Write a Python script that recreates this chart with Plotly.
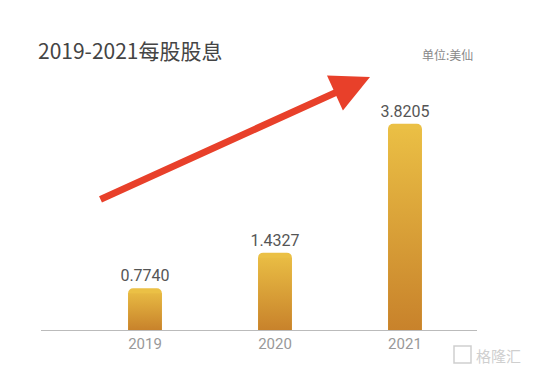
import plotly.graph_objects as go

years = ["2019", "2020", "2021"]
dps = [0.7740, 1.4327, 3.8205]
labels = ["0.7740", "1.4327", "3.8205"]

W, H = 554, 372
L, R, T, B = 41, 77, 60, 42
PW, PH = W - L - R, H - T - B
YMAX = 5.0
BW = 0.26
TOP_C = "#EBC045"
BOT_C = "#C8822B"

def px(x, y):
    return (x - L) / PW, (H - B - y) / PH

fig = go.Figure()
xs = list(range(len(years)))
fig.add_trace(go.Bar(
    x=xs, y=dps, width=BW, marker=dict(color=TOP_C, cornerradius=5, line=dict(width=0)),
    text=labels, textposition="outside", cliponaxis=False, constraintext="none",
    textfont=dict(family="Roboto", size=16, color="#555555"), hoverinfo="skip"))
cap = 5 / (PH / YMAX)
for i, v in zip(xs, dps):
    top = v - cap
    fig.add_trace(go.Scatter(
        x=[i - BW / 2, i - BW / 2, i + BW / 2, i + BW / 2, i - BW / 2],
        y=[0, top, top, 0, 0], mode="lines", line=dict(width=0), fill="toself",
        fillgradient=dict(type="vertical", colorscale=[[0, BOT_C], [1, TOP_C]], start=0, stop=v),
        hoverinfo="skip", showlegend=False))

tx, ty = px(370, 77)
fig.add_annotation(xref="paper", yref="paper", x=tx, y=ty, ax=99 - 370, ay=200 - 77,
                   axref="pixel", ayref="pixel", text="", showarrow=True,
                   arrowhead=2, arrowsize=1.1, arrowwidth=7, arrowcolor="#E8402A", standoff=0)

x0, y0 = px(36, 50)
fig.add_annotation(xref="paper", yref="paper", x=x0, y=y0, xanchor="left", yanchor="middle",
                   text="2019-2021每股股息", showarrow=False,
                   font=dict(family="Noto Sans CJK SC", size=21, color="#444444"))
x1, y1 = px(475, 55)
fig.add_annotation(xref="paper", yref="paper", x=x1, y=y1, xanchor="right", yanchor="middle",
                   text="单位:美仙", showarrow=False,
                   font=dict(family="Noto Sans CJK SC", size=12, color="#888888"))
x2, y2 = px(523, 355)
fig.add_annotation(xref="paper", yref="paper", x=x2, y=y2, xanchor="right", yanchor="middle",
                   text="格隆汇", showarrow=False,
                   font=dict(family="Noto Sans CJK SC", size=15, color="#CFCFCF"))
a0, b0 = px(454, 346)
a1, b1 = px(471, 363)
fig.add_shape(type="rect", xref="paper", yref="paper", x0=a0, y0=b0, x1=a1, y1=b1,
              line=dict(color="#CFCFCF", width=1.5))

fig.update_layout(
    width=W, height=H, margin=dict(l=L, r=R, t=T, b=B),
    paper_bgcolor="white", plot_bgcolor="white", showlegend=False,
    xaxis=dict(range=[-0.8, 2.554], tickvals=xs, ticktext=years, showgrid=False, zeroline=False,
               showline=True, linecolor="#BBBBBB", linewidth=1, ticks="",
               tickfont=dict(family="Roboto", size=15, color="#999999")),
    yaxis=dict(range=[0, YMAX], visible=False, showgrid=False, zeroline=False),
)
fig.write_html("out.html")
